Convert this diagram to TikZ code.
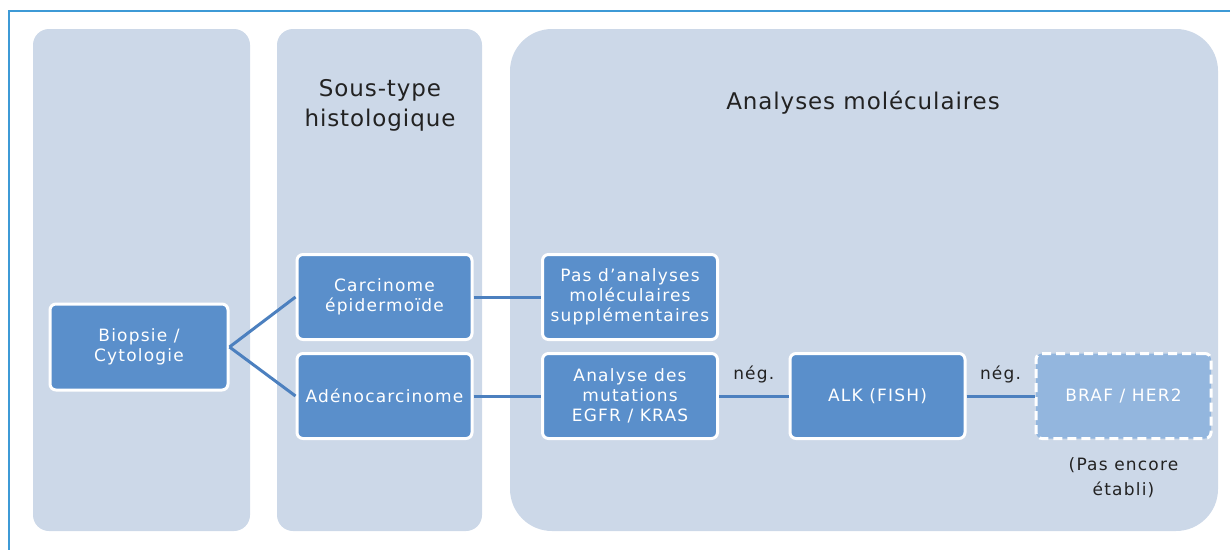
\documentclass[tikz,border=0pt]{standalone}
\usepackage{fontspec}
\setmainfont{DejaVu Sans}
\usetikzlibrary{positioning}
\definecolor{framebl}{HTML}{3E9AD6}
\definecolor{colfill}{HTML}{CCD8E8}
\definecolor{boxfill}{HTML}{5A8FCB}
\definecolor{boxlight}{HTML}{93B6DE}
\definecolor{linkcol}{HTML}{4C80BF}
\definecolor{inkgrey}{HTML}{222222}
\newcommand{\boxfont}{\fontsize{17}{20}\selectfont\addfontfeatures{LetterSpace=7}}
\newcommand{\notefont}{\fontsize{17}{25}\selectfont\addfontfeatures{LetterSpace=7}}
\tikzset{
  column/.style={fill=colfill, rounded corners=16pt, inner sep=0pt}, % grey-blue bands
  stage/.style={draw=white, line width=3pt, fill=boxfill, rounded corners=6pt,
    minimum width=175pt, minimum height=85pt, align=center, text=white,
    font=\boxfont, inner sep=2pt},
  pending/.style={stage, fill=boxlight, dashed, dash pattern=on 9pt off 5pt},
  link/.style={draw=linkcol, line width=3pt},
  note/.style={align=center, text=inkgrey, font=\notefont},
  title/.style={align=center, text=inkgrey,
    font=\fontsize{23}{30}\selectfont\addfontfeatures{LetterSpace=4}},
}
\begin{document}
\begin{tikzpicture}[x=1pt, y=-1pt]
  \useasboundingbox (0,0) rectangle (1230,549);
  % outer frame, cut at right and bottom
  \begin{scope}
    \clip (0,0) rectangle (1230,549);
    \draw[framebl, line width=2pt] (9,560) -- (9,11) -- (1240,11);
  \end{scope}

  % the three columns
  \node[column, minimum width=217pt, minimum height=502pt] (colbio) at (141.5,280) {};
  \node[column, minimum width=205pt, minimum height=502pt] (colhisto) at (379.5,280) {};
  \node[column, rounded corners=42pt, minimum width=708pt, minimum height=502pt] (colmol) at (864,280) {};

  \node[title] (histotitle) at (380,105) {Sous-type\\histologique};
  \node[title] (moltitle) at (863,103) {Analyses moléculaires};

  % boxes
  \node[stage, minimum width=178pt, minimum height=86pt] (biopsie) at (139,347) {Biopsie /\\Cytologie};
  \node[stage] (epider) at (384.5,297) {Carcinome\\épidermoïde};
  \node[stage] (adeno) at (384.5,396) {Adénocarcinome};
  \node[stage] (aucune) at (630,297) {Pas d'analyses\\moléculaires\\supplémentaires};
  \node[stage] (egfr) at (630,396) {Analyse des\\mutations\\EGFR / KRAS};
  \node[stage] (alk) at (877.5,396) {ALK (FISH)};
  \node[pending] (braf) at (1123.5,396) {BRAF / HER2};
  \node[note, below=14pt of braf] (pasencore) {(Pas encore\\établi)};

  % connectors
  \draw[link] (biopsie.east) -- (epider.west);
  \draw[link] (biopsie.east) -- (adeno.west);
  \draw[link] (epider) -- (aucune);
  \draw[link] (adeno) -- (egfr);
  \draw[link] (egfr) -- node[note, above=8pt] {nég.} (alk);
  \draw[link] (alk) -- node[note, above=8pt] {nég.} (braf);
\end{tikzpicture}
\end{document}
